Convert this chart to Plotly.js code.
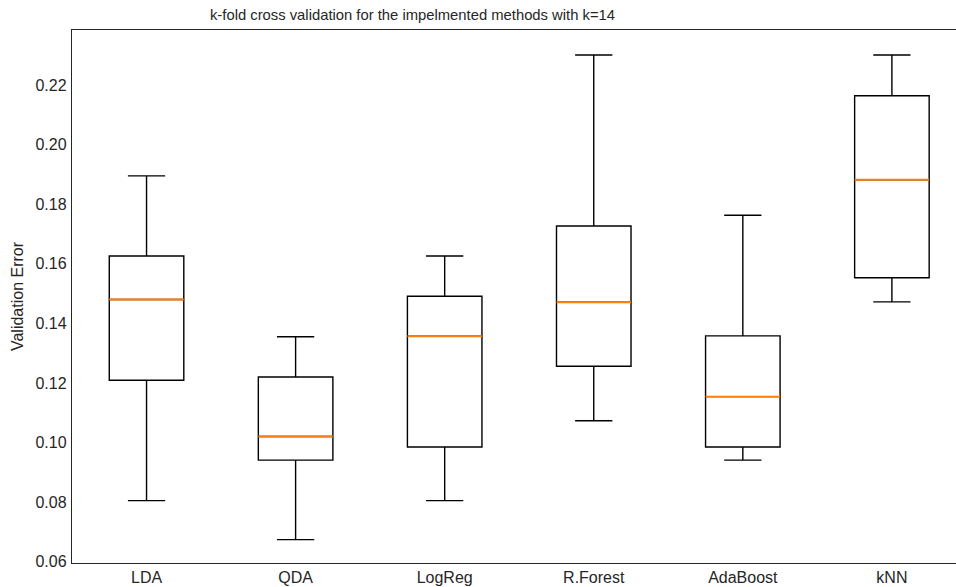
<!DOCTYPE html>
<html>
<head>
<meta charset="utf-8">
<script src="https://cdn.plot.ly/plotly-3.0.1.min.js"></script>
<style>html,body{margin:0;padding:0;background:#fff;}#chart{width:956px;height:587px;}</style>
</head>
<body>
<div id="chart"></div>
<script>
// Data
const methods = ["LDA", "QDA", "LogReg", "R.Forest", "AdaBoost", "kNN"];
const positions = [1, 2, 3, 4, 5, 6];
const lowerWhisker = [0.0805, 0.0674, 0.0805, 0.1073, 0.0941, 0.1472];
const q1Values     = [0.1209, 0.0941, 0.0985, 0.1256, 0.0985, 0.1553];
const medianValues = [0.1480, 0.1020, 0.1357, 0.1471, 0.1154, 0.1882];
const q3Values     = [0.1626, 0.1220, 0.1491, 0.1727, 0.1358, 0.2164];
const upperWhisker = [0.1895, 0.1355, 0.1626, 0.2301, 0.1763, 0.2301];
const yTicks = [0.06, 0.08, 0.10, 0.12, 0.14, 0.16, 0.18, 0.20, 0.22];

const boxWidth = 0.5;
const medX = [], medY = [];
positions.forEach((p, i) => {
  medX.push(p - boxWidth / 2, p + boxWidth / 2, null);
  medY.push(medianValues[i], medianValues[i], null);
});

const traces = [
  {
    type: "box",
    x: positions,
    q1: q1Values,
    median: medianValues,
    q3: q3Values,
    lowerfence: lowerWhisker,
    upperfence: upperWhisker,
    width: boxWidth,
    whiskerwidth: 0.5,
    fillcolor: "rgba(0,0,0,0)",
    line: {color: "#000000", width: 1.4},
    boxpoints: false,
    hoverinfo: "skip",
    showlegend: false
  },
  {
    type: "scatter",
    mode: "lines",
    x: medX,
    y: medY,
    line: {color: "#ff7f0e", width: 1.9},
    hoverinfo: "skip",
    showlegend: false
  }
];

const textColor = "#262626";
const layout = {
  width: 956,
  height: 587,
  margin: {l: 72, r: 0, t: 30, b: 24},
  paper_bgcolor: "#ffffff",
  plot_bgcolor: "#ffffff",
  showlegend: false,
  font: {family: "Liberation Sans, Arial, sans-serif", color: textColor, size: 16},
  title: {
    text: "k-fold cross validation for the impelmented methods with k=14",
    font: {family: "Liberation Sans, Arial, sans-serif", size: 14.8, color: textColor},
    xref: "container", x: 0.4315, xanchor: "center",
    yref: "container", y: 1 - 20 / 587, yanchor: "bottom"
  },
  xaxis: {
    range: [0.5, 6.43],
    tickmode: "array",
    tickvals: positions,
    ticktext: methods,
    showgrid: false,
    zeroline: false,
    showline: true,
    mirror: true,
    linecolor: "#262626",
    linewidth: 1.25,
    ticks: "",
    tickfont: {size: 16, color: textColor},
    fixedrange: true
  },
  yaxis: {
    range: [0.05956, 0.23848],
    tickmode: "array",
    tickvals: yTicks,
    ticktext: yTicks.map(v => v.toFixed(2)),
    showgrid: false,
    zeroline: false,
    showline: true,
    mirror: false,
    linecolor: "#262626",
    linewidth: 1.25,
    ticks: "outside",
    ticklen: 1,
    tickcolor: "rgba(0,0,0,0)",
    tickfont: {size: 16, color: textColor},
    title: {text: "Validation Error", font: {size: 16, color: textColor}, standoff: 7},
    automargin: false,
    fixedrange: true
  }
};

Plotly.newPlot("chart", traces, layout, {displayModeBar: false, staticPlot: true});
</script>
</body>
</html>
